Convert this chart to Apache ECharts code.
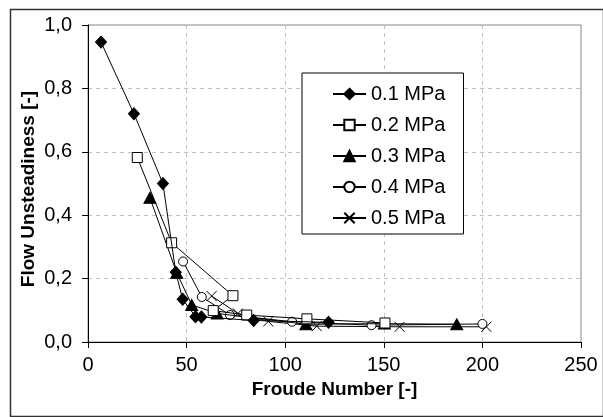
<!DOCTYPE html>
<html>
<head>
<meta charset="utf-8">
<script src="https://cdn.jsdelivr.net/npm/echarts@6/dist/echarts.min.js"></script>
<style>
html,body{margin:0;padding:0;background:#fff;}
#c{width:603px;height:417px;}
</style>
</head>
<body>
<div id="c"></div>
<script>
// ---- data ----
const seriesNames = ['0.1 MPa', '0.2 MPa', '0.3 MPa', '0.4 MPa', '0.5 MPa'];
const s01 = [[6.6,0.946],[23.3,0.72],[38,0.50],[44.5,0.22],[48,0.135],[54.5,0.080],[57.5,0.079],[84,0.068],[122,0.062]];
const s02 = [[25,0.582],[42.4,0.313],[73.5,0.146],[63.5,0.099],[80.5,0.085],[111,0.073],[150.6,0.060]];
const s03 = [[31.4,0.455],[45,0.218],[52.6,0.117],[65.5,0.090],[110.5,0.056],[150.3,0.058],[187,0.056]];
const s04 = [[48.2,0.254],[57.7,0.142],[72,0.085],[103.5,0.064],[143.8,0.053],[200,0.057]];
const s05 = [[62.7,0.145],[76,0.090],[91.4,0.065],[116,0.050],[158,0.048],[202,0.048]];
const xTicks = [0, 50, 100, 150, 200, 250];
const yTicks = ['0,0','0,2','0,4','0,6','0,8','1,0'];
const xTitle = 'Froude Number [-]';
const yTitle = 'Flow Unsteadiness [-]';

const FONT = '"Liberation Sans", Arial, sans-serif';
const chart = echarts.init(document.getElementById('c'), null, {renderer: 'canvas'});

const markers = [
  {symbol: 'diamond', symbolSize: [11, 12], itemStyle: {color: '#000', borderColor: '#000', borderWidth: 1}},
  {symbol: 'rect', symbolSize: 10, itemStyle: {color: '#fff', borderColor: '#000', borderWidth: 1}},
  {symbol: 'triangle', symbolSize: [12, 11], itemStyle: {color: '#000', borderColor: '#000', borderWidth: 1}},
  {symbol: 'circle', symbolSize: 9, itemStyle: {color: '#fff', borderColor: '#000', borderWidth: 1}},
  {symbol: 'path://M0,0L10,10M10,0L0,10', symbolSize: 10, itemStyle: {color: 'none', borderColor: '#000', borderWidth: 1}}
];
const dataSets = [s01, s02, s03, s04, s05];

const series = dataSets.map((d, i) => ({
  name: seriesNames[i],
  type: 'line',
  data: d,
  symbol: markers[i].symbol,
  symbolSize: markers[i].symbolSize,
  showSymbol: true,
  showAllSymbol: true,
  lineStyle: {color: '#000', width: 1},
  itemStyle: markers[i].itemStyle,
  emphasis: {disabled: true},
  z: 10 - i,
  animation: false
}));

chart.setOption({
  animation: false,
  backgroundColor: '#fff',
  graphic: [{
    type: 'rect', left: 8, top: 7, shape: {width: 593, height: 407},
    style: {fill: 'none', stroke: '#333', lineWidth: 1.5}, silent: true
  }, {
    type: 'text', x: 29, y: 189, rotation: Math.PI / 2,
    style: {text: yTitle, fontSize: 19, fontWeight: 'bold', fill: '#000', fontFamily: FONT,
      align: 'center', verticalAlign: 'middle'}, silent: true
  }],
  grid: {left: 88, right: 22, top: 25, bottom: 75, show: true, borderColor: '#888', borderWidth: 1, backgroundColor: 'transparent'},
  legend: {
    orient: 'vertical',
    left: 302, top: 73,
    padding: [11, 18, 6, 30],
    itemGap: 11,
    itemWidth: 33, itemHeight: 13,
    backgroundColor: '#fff',
    borderColor: '#000', borderWidth: 1,
    textStyle: {fontSize: 20, color: '#000', fontFamily: FONT},
    data: seriesNames
  },
  xAxis: {
    type: 'value', min: 0, max: 250, interval: 50,
    name: xTitle, nameLocation: 'middle', nameGap: 37,
    nameTextStyle: {fontSize: 19, fontWeight: 'bold', color: '#000', fontFamily: FONT},
    axisLine: {show: true, onZero: false, lineStyle: {color: '#000', width: 1}},
    axisTick: {show: true, inside: false, length: 6, lineStyle: {color: '#000'}},
    axisLabel: {color: '#000', fontSize: 20, fontFamily: FONT, margin: 13,
      formatter: v => String(xTicks[xTicks.indexOf(v)])},
    splitLine: {show: true, lineStyle: {color: '#c0c0c0', type: [4, 4], width: 1}}
  },
  yAxis: {
    type: 'value', min: 0, max: 1, interval: 0.2,
    axisLine: {show: true, onZero: false, lineStyle: {color: '#000', width: 1}},
    axisTick: {show: true, inside: false, length: 6, lineStyle: {color: '#000'}},
    axisLabel: {color: '#000', fontSize: 20, fontFamily: FONT, margin: 16,
      formatter: v => yTicks[Math.round(v / 0.2)]},
    splitLine: {show: true, lineStyle: {color: '#c0c0c0', type: [4, 4], width: 1}}
  },
  series: series
});
</script>
</body>
</html>
